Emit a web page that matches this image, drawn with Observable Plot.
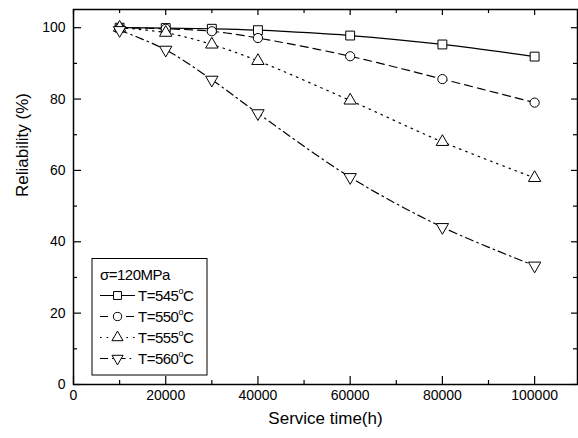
<!DOCTYPE html>
<html><head><meta charset="utf-8">
<script src="https://cdn.jsdelivr.net/npm/d3@7"></script>
<script src="https://cdn.jsdelivr.net/npm/@observablehq/plot@0.6"></script>
<style>
body{margin:0;background:#fff;}
svg{font-family:"Liberation Sans",Arial,sans-serif;}
</style>
</head><body><div id="chart"></div>
<script>
// Data
const hours = [10000, 20000, 30000, 40000, 60000, 80000, 100000];
const r545 = [100, 99.9, 99.7, 99.3, 97.8, 95.3, 91.9];
const r550 = [100, 99.7, 99.0, 97.1, 92.0, 85.6, 79.0];
const r555 = [100, 98.6, 95.3, 90.7, 79.6, 68.0, 57.9];
const r560 = [99.3, 93.8, 85.4, 76.0, 58.1, 44.1, 33.3];
const seriesLabels = ["T=545", "T=550", "T=555", "T=560"];
const stressLabel = "σ=120MPa";
const xMajor = [0, 20000, 40000, 60000, 80000, 100000];
const xMinor = [10000, 30000, 50000, 70000, 90000];
const yMajor = [0, 20, 40, 60, 80, 100];
const yMinor = [10, 30, 50, 70, 90];
const xTitle = "Service time(h)";
const yTitle = "Reliability (%)";

// Styles
const W = 578, H = 438, ML = 73, MR = 1, MT = 9, MB = 54;
const FW = W - ML - MR, FH = H - MT - MB;
const styles = [
  {dash: null, symbol: "square", r: 5.0, rotate: 0},
  {dash: "8,5", symbol: "circle", r: 4.6, rotate: 0},
  {dash: "1.6,5", symbol: "triangle", r: 4.6, rotate: 0},
  {dash: "8,4,1.6,4", symbol: "triangle", r: 4.6, rotate: 180}
];
const allSeries = [r545, r550, r555, r560];
const tables = allSeries.map((vals, i) => hours.map((h, j) => ({h, v: vals[j], s: seriesLabels[i]})));

const marks = [];
tables.forEach((t, i) => {
  marks.push(Plot.line(t, {x: "h", y: "v", stroke: "black", strokeWidth: 1.2,
    strokeDasharray: styles[i].dash, curve: "catmull-rom"}));
});
tables.forEach((t, i) => {
  marks.push(Plot.dot(t, {x: "h", y: "v", symbol: () => styles[i].symbol, r: styles[i].r,
    rotate: styles[i].rotate, fill: "white", stroke: "black", strokeWidth: 1}));
});
// ticks inside frame
marks.push(
  Plot.tickX(xMajor, {x: d => d, insetTop: FH - 8, stroke: "black", strokeWidth: 1.2}),
  Plot.tickX(xMinor, {x: d => d, insetTop: FH - 4, stroke: "black", strokeWidth: 1.2}),
  Plot.tickX(xMajor, {x: d => d, insetBottom: FH - 6, stroke: "black", strokeWidth: 1.2}),
  Plot.tickX(xMinor, {x: d => d, insetBottom: FH - 4, stroke: "black", strokeWidth: 1.2}),
  Plot.tickY(yMajor, {y: d => d, insetRight: FW - 8, stroke: "black", strokeWidth: 1.2}),
  Plot.tickY(yMinor, {y: d => d, insetRight: FW - 4, stroke: "black", strokeWidth: 1.2}),
  Plot.tickY(yMajor, {y: d => d, insetLeft: FW - 6, stroke: "black", strokeWidth: 1.2}),
  Plot.tickY(yMinor, {y: d => d, insetLeft: FW - 4, stroke: "black", strokeWidth: 1.2}),
  Plot.frame({stroke: "black", strokeWidth: 1.5}),
  Plot.axisX(xMajor, {tickSize: 0, tickPadding: 6, fontSize: 14, label: null, fill: "black", tickFormat: d => String(d)}),
  Plot.axisY(yMajor, {tickSize: 0, tickPadding: 8, fontSize: 14, label: null, fill: "black", tickFormat: d => String(d)}),
  Plot.text([xTitle], {frameAnchor: "bottom", dy: 39, fontSize: 17, fill: "black", text: d => d}),
  Plot.text([yTitle], {frameAnchor: "left", dx: -51, rotate: -90, fontSize: 17, fill: "black", text: d => d})
);

const chart = Plot.plot({
  width: W, height: H,
  marginLeft: ML, marginRight: MR, marginTop: MT, marginBottom: MB,
  x: {domain: [0, 109300]},
  y: {domain: [0, 105.1]},
  style: {fontFamily: '"Liberation Sans", Arial, sans-serif', color: "black", background: "white"},
  marks
});
document.getElementById("chart").appendChild(chart);

// Legend box inside plot
const svg = d3.select(chart);
const lg = svg.append("g").attr("transform", "translate(92,258.5)").attr("text-anchor", "start");
lg.append("rect").attr("width", 115).attr("height", 116.5)
  .attr("fill", "white").attr("stroke", "black").attr("stroke-width", 1);
lg.append("text").attr("x", 8).attr("y", 21).attr("font-size", 15).attr("fill", "black")
  .attr("text-anchor", "start").style("letter-spacing", "-0.5px").text(stressLabel);
const sym = {square: d3.symbolSquare, circle: d3.symbolCircle, triangle: d3.symbolTriangle};
seriesLabels.forEach((lab, i) => {
  const cy = 37 + i * 21;
  const st = styles[i];
  lg.append("line").attr("x1", 8).attr("x2", 43).attr("y1", cy).attr("y2", cy)
    .attr("stroke", "black").attr("stroke-width", 1.2)
    .attr("stroke-dasharray", st.dash);
  lg.append("path").attr("d", d3.symbol(sym[st.symbol], Math.PI * st.r * st.r * 0.8)())
    .attr("transform", `translate(25.5,${cy}) rotate(${st.rotate})`)
    .attr("fill", "white").attr("stroke", "black").attr("stroke-width", 1);
  const t = lg.append("text").attr("x", 46).attr("y", cy + 5.5).attr("font-size", 15).attr("fill", "black")
    .attr("text-anchor", "start").style("letter-spacing", "-0.5px");
  t.append("tspan").text(lab);
  t.append("tspan").attr("font-size", 9).attr("dy", -7).text("o");
  t.append("tspan").attr("dy", 7).text("C");
});
</script>
</body></html>
